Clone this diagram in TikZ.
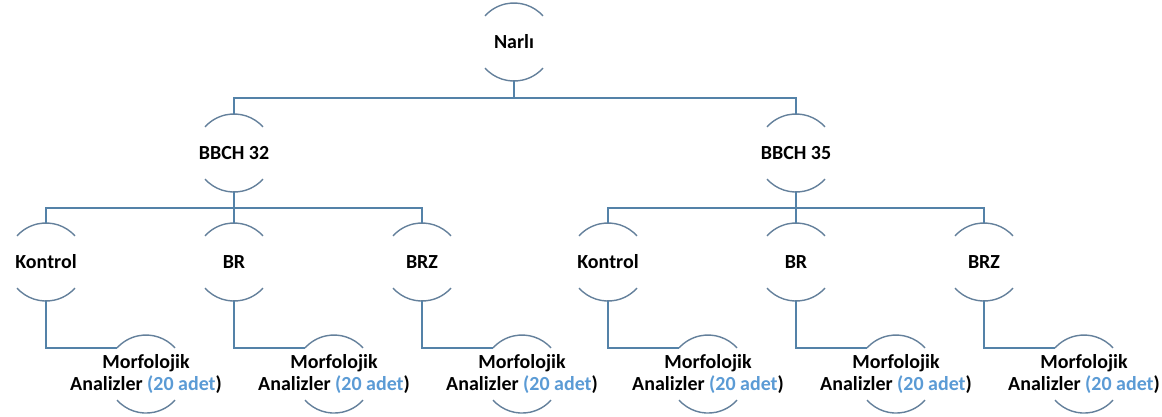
\documentclass[tikz,border=0pt]{standalone}
\usepackage{fontspec}
\setmainfont{Carlito}
\usepackage{xcolor}

\definecolor{linkblue}{RGB}{84,130,168}
\definecolor{arcgray}{RGB}{100,128,155}
\definecolor{adetblue}{RGB}{91,155,213}

\tikzset{
	halka/.style={circle,minimum size=1.95cm,inner sep=0pt,outer sep=0pt,align=center,
		font=\bfseries\fontsize{14.2}{15.6}\selectfont},
	link/.style={draw=linkblue,line width=1pt},
	yay/.style={draw=arcgray,line width=1pt}
}

\begin{document}
\begin{tikzpicture}[x=0.025cm,y=0.025cm]
	\useasboundingbox (0,0) rectangle (1162,-416);
	\node[halka] (narli) at (514,-42) {Narlı};
	\node[halka] (bbch32) at (234,-153) {BBCH 32};
	\node[halka] (bbch35) at (796,-153) {BBCH 35};
	\foreach \grup/\x in {32/46,35/608} {
		\node[halka] (kontrol\grup) at (\x,-262) {Kontrol};
		\node[halka] (br\grup) at (\x+188,-262) {BR};
		\node[halka] (brz\grup) at (\x+376,-262) {BRZ};
	}
	\foreach \ad in {kontrol32,br32,brz32,kontrol35,br35,brz35} {
		\node[halka] (morf-\ad) at ([xshift=2.5cm,yshift=-2.8cm]\ad)
			{Morfolojik\\Analizler {\color{adetblue}(20 adet})};
		\coordinate (giris-\ad) at ([shift={(138:0.975cm)}]morf-\ad.center);
	}
	% arcs above and below each label
	\foreach \n in {narli,bbch32,bbch35,kontrol32,br32,brz32,kontrol35,br35,brz35,
		morf-kontrol32,morf-br32,morf-brz32,morf-kontrol35,morf-br35,morf-brz35}
		\draw[yay] ([shift={(42:0.975cm)}]\n.center) arc[start angle=42,end angle=138,radius=0.975cm]
			([shift={(222:0.975cm)}]\n.center) arc[start angle=222,end angle=318,radius=0.975cm];
	% connectors
	\coordinate (bar1) at (0,-98);
	\coordinate (bar2) at (0,-208);
	\draw[link] (narli.south) -- (narli.south |- bar1) -| (bbch32.north)
		(narli.south |- bar1) -| (bbch35.north);
	\foreach \g in {32,35}
		\draw[link] (bbch\g.south) -- (br\g.north)
			(kontrol\g.north) |- (brz\g.north |- bar2) -- (brz\g.north);
	\foreach \ad in {kontrol32,br32,brz32,kontrol35,br35,brz35}
		\draw[link] (\ad.south) |- (giris-\ad);
\end{tikzpicture}
\end{document}
